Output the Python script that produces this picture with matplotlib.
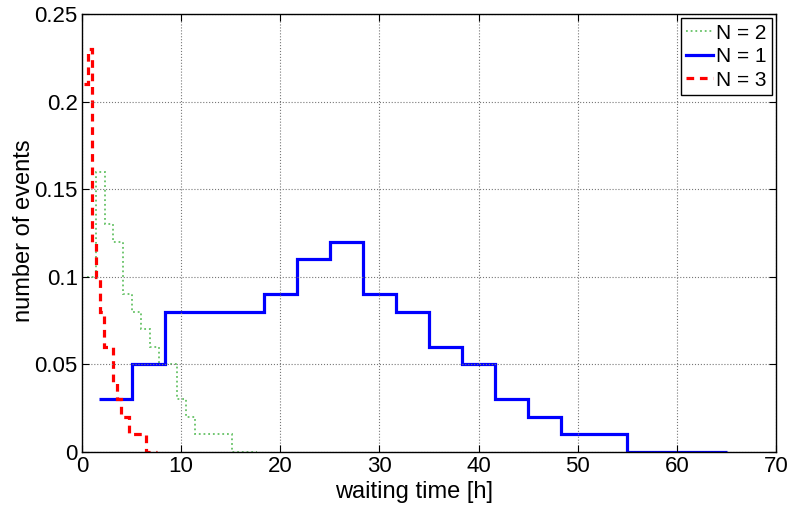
import numpy as np
import matplotlib
matplotlib.use('Agg')
import matplotlib.pyplot as plt

plt.rcParams['font.family'] = ['Liberation Sans', 'DejaVu Sans']

# bin edges [h] and fraction of events per bin
n2_edges = [0.5, 1.41, 2.32, 3.15, 4.10, 5.00, 5.91, 6.85, 7.78, 8.69, 9.60,
            10.47, 11.38, 12.29, 13.19, 14.10, 15.08, 17.6]
n2_vals = [0.10, 0.16, 0.13, 0.12, 0.09, 0.08, 0.07, 0.06, 0.05, 0.05, 0.03,
           0.02, 0.01, 0.01, 0.01, 0.01, 0.0]

n1_edges = [1.67, 5, 8.33, 11.67, 15, 18.33, 21.67, 25, 28.33, 31.67, 35,
            38.33, 41.67, 45, 48.33, 51.67, 55, 58.33, 61.67, 65]
n1_vals = [0.03, 0.05, 0.08, 0.08, 0.08, 0.09, 0.11, 0.12, 0.09, 0.08, 0.06,
           0.05, 0.03, 0.02, 0.01, 0.01, 0.0, 0.0, 0.0]

n3_edges = [0.17, 0.6, 1.03, 1.45, 1.86, 2.27, 2.69, 3.11, 3.53, 3.95, 4.37,
            4.79, 5.21, 5.63, 6.05, 6.47, 7.6]
n3_vals = [0.21, 0.23, 0.12, 0.10, 0.08, 0.06, 0.06, 0.04, 0.03, 0.02, 0.02,
           0.01, 0.01, 0.01, 0.01, 0.0]

fig = plt.figure(figsize=(7.88, 5.05), dpi=100)
ax = fig.add_axes([0.104, 0.105, 0.881, 0.867])

ax.stairs(n2_vals, n2_edges, baseline=None, color='#66c266',
          linewidth=1.3, linestyle=(0, (1, 1.6)), label='N = 2')
ax.stairs(n1_vals, n1_edges, baseline=None, color='#0000ff',
          linewidth=2.3, label='N = 1')
ax.stairs(n3_vals, n3_edges, baseline=None, color='#ff0000',
          linewidth=2.3, linestyle=(0, (2.4, 1.8)), label='N = 3')

ax.set_xlim(0, 70)
ax.set_ylim(0, 0.25)
ax.set_xticks(np.arange(0, 71, 10))
ax.set_yticks([0, 0.05, 0.1, 0.15, 0.2, 0.25])
ax.set_yticklabels(['0', '0.05', '0.1', '0.15', '0.2', '0.25'])
ax.tick_params(direction='in', length=5, width=0.8, labelsize=16,
               top=True, right=True, pad=3)
ax.grid(True, linestyle=':', color='#777777', linewidth=0.8)
for s in ax.spines.values():
    s.set_linewidth(1.0)

ax.set_xlabel('waiting time [h]', fontsize=17)
ax.set_ylabel('number of events', fontsize=17)
ax.xaxis.set_label_coords(0.478, -0.066)
ax.yaxis.set_label_coords(-0.068, 0.505)

leg = ax.legend(loc='upper right', fontsize=15, fancybox=False,
                edgecolor='black', framealpha=1, handlelength=1.3,
                handletextpad=0.15, borderpad=0.25, labelspacing=0.22,
                borderaxespad=0.2)
leg.get_frame().set_linewidth(1.0)

fig.savefig('out.png', dpi=100)
